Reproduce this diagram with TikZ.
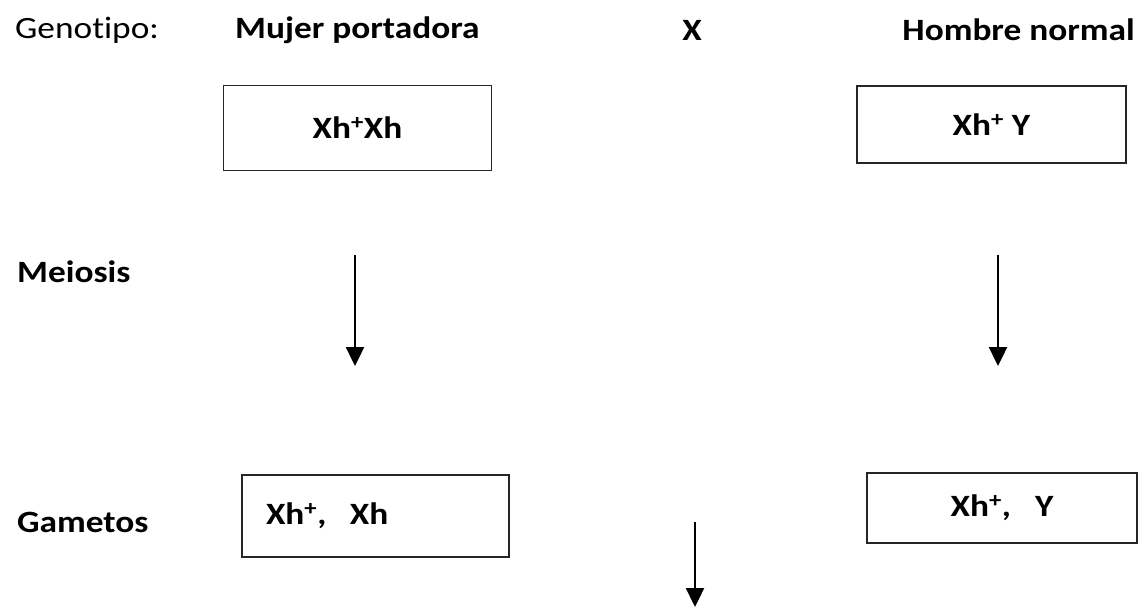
\documentclass[tikz,border=0pt]{standalone}
\usepackage{fontspec}
\usepackage{graphicx}
\setmainfont{Carlito}[Ligatures=NoCommon]
\usetikzlibrary{arrows.meta}
\newcommand{\sx}[1]{\scalebox{1.14}[1]{#1}}
\tikzset{
  lbl/.style={inner sep=0pt, font=\fontsize{31}{36}\selectfont},
  blbl/.style={lbl, font=\fontsize{31}{36}\selectfont\bfseries},
  gbox/.style={draw=black!85, line width=1.8pt, inner sep=0pt, font=\fontsize{31}{36}\selectfont\bfseries},
  arr/.style={line width=2.4pt, -{Triangle[length=19pt,width=18pt]}}
}
\begin{document}
\begin{tikzpicture}[x=1pt,y=-1pt]
\useasboundingbox (0,0) rectangle (1138,610);
\node[lbl, anchor=west] (geno) at (15,30) {\sx{Genotipo:}};
\node[blbl, anchor=west] (mujer) at (235,30) {\sx{Mujer portadora}};
\node[blbl] (cross) at (692,30) {\sx{X}};
\node[blbl, anchor=east] (hombre) at (1135,30) {\sx{Hombre normal}};
\node[blbl, anchor=west] (meio) at (17,272) {\sx{Meiosis}};
\node[blbl, anchor=west] (game) at (17,522) {\sx{Gametos}};
\node[gbox, minimum width=268pt, minimum height=85pt] (b1) at (357.5,128) {\sx{Xh\textsuperscript{+}Xh}};
\node[gbox, minimum width=269pt, minimum height=77pt] (b2) at (991.5,124.5) {\sx{Xh\textsuperscript{+} Y}};
\node[gbox, minimum width=267pt, minimum height=82pt, text width=219pt, align=left, inner xsep=24pt] (b3) at (375.5,516) {\sx{Xh\textsuperscript{+},\ \ Xh}};
\node[gbox, minimum width=270pt, minimum height=70pt] (b4) at (1002,508) {\sx{Xh\textsuperscript{+},\ \ \ Y}};
\coordinate (a1s) at (355,255);
\coordinate (a1e) at (355,366);
\coordinate (a2s) at (998,255);
\coordinate (a2e) at (998,366);
\coordinate (a3s) at (695,522);
\coordinate (a3e) at (695,607);
\draw[arr] (a1s) -- (a1e);
\draw[arr] (a2s) -- (a2e);
\draw[arr] (a3s) -- (a3e);
\end{tikzpicture}
\end{document}
